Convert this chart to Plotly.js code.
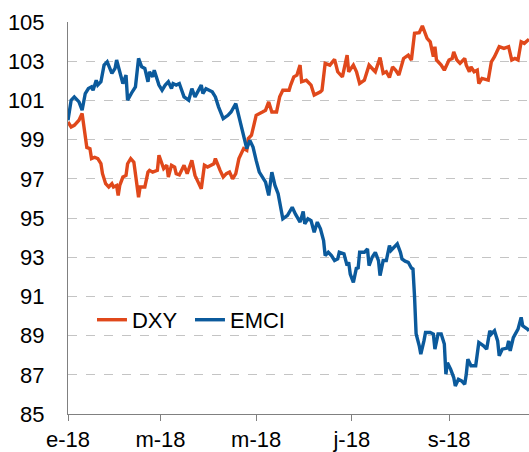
<!DOCTYPE html>
<html>
<head>
<meta charset="utf-8">
<script src="https://cdn.plot.ly/plotly-3.0.1.min.js"></script>
<style>html,body{margin:0;padding:0;background:#fff;}#chart{width:529px;height:452px;}</style>
</head>
<body>
<div id="chart"></div>
<script>
var dxyDates = ['2018-01-01','2018-01-03','2018-01-05','2018-01-08','2018-01-10','2018-01-12','2018-01-13','2018-01-15','2018-01-16','2018-01-18','2018-01-20','2018-01-22','2018-01-23','2018-01-25','2018-01-27','2018-01-29','2018-01-30','2018-02-01','2018-02-02','2018-02-03','2018-02-05','2018-02-07','2018-02-08','2018-02-10','2018-02-12','2018-02-13','2018-02-15','2018-02-16','2018-02-19','2018-02-21','2018-02-22','2018-02-24','2018-02-27','2018-02-28','2018-03-02','2018-03-03','2018-03-05','2018-03-06','2018-03-08','2018-03-10','2018-03-11','2018-03-13','2018-03-16','2018-03-18','2018-03-21','2018-03-23','2018-03-25','2018-03-27','2018-03-29','2018-03-31','2018-04-04','2018-04-05','2018-04-08','2018-04-10','2018-04-12','2018-04-14','2018-04-16','2018-04-18','2018-04-20','2018-04-23','2018-04-25','2018-04-26','2018-04-28','2018-05-01','2018-05-05','2018-05-07','2018-05-09','2018-05-11','2018-05-14','2018-05-16','2018-05-18','2018-05-22','2018-05-23','2018-05-25','2018-05-27','2018-05-29','2018-05-30','2018-06-02','2018-06-05','2018-06-07','2018-06-11','2018-06-12','2018-06-14','2018-06-17','2018-06-20','2018-06-22','2018-06-25','2018-06-28','2018-06-29','2018-07-02','2018-07-04','2018-07-06','2018-07-09','2018-07-12','2018-07-15','2018-07-16','2018-07-19','2018-07-21','2018-07-23','2018-07-25','2018-07-27','2018-07-29','2018-07-31','2018-08-03','2018-08-06','2018-08-08','2018-08-10','2018-08-13','2018-08-15','2018-08-17','2018-08-18','2018-08-20','2018-08-22','2018-08-23','2018-08-24','2018-08-27','2018-08-29','2018-09-01','2018-09-03','2018-09-04','2018-09-06','2018-09-08','2018-09-11','2018-09-12','2018-09-14','2018-09-15','2018-09-17','2018-09-19','2018-09-20','2018-09-22','2018-09-26','2018-09-28','2018-09-30','2018-10-03','2018-10-06','2018-10-09','2018-10-11','2018-10-13','2018-10-15','2018-10-17','2018-10-19','2018-10-22'];
var dxyValues = [99.9,99.64,99.73,99.99,100.33,99.3,98.6,98.54,98.03,98.1,98.03,97.77,97.26,96.75,96.58,96.75,96.58,96.66,96.15,96.66,97.09,97.17,97.77,98.03,97.85,97.26,96.06,96.58,96.58,97.34,97.43,97.34,97.43,98.2,97.77,97.52,97.69,97.09,97.69,97.6,97.26,97.2,97.69,97.26,97.94,97.17,96.83,96.49,97.69,97.6,97.77,98.03,97.43,97.09,97.26,97.34,97.0,97.26,98.03,98.54,98.45,99.05,99.22,100.24,100.41,100.5,100.92,100.41,100.41,101.18,101.52,101.52,101.78,102.2,102.29,102.8,101.95,102.03,101.78,101.27,101.44,101.52,102.89,102.8,103.09,102.46,102.2,103.31,102.46,102.8,102.46,101.86,102.03,102.8,102.54,102.46,103.19,102.38,102.46,102.17,102.71,102.54,102.29,103.14,103.31,103.06,104.42,104.45,104.8,104.34,104.17,103.99,103.23,103.74,103.06,102.8,102.54,103.06,103.14,103.48,103.06,102.89,103.14,102.8,102.46,102.71,102.46,102.54,101.86,102.12,102.03,102.97,103.23,103.74,103.65,103.74,103.06,103.14,103.06,103.99,103.91,104.12];

var emciDates = ['2018-01-01','2018-01-03','2018-01-05','2018-01-08','2018-01-10','2018-01-12','2018-01-14','2018-01-16','2018-01-17','2018-01-19','2018-01-20','2018-01-22','2018-01-24','2018-01-26','2018-01-29','2018-01-31','2018-02-01','2018-02-03','2018-02-05','2018-02-07','2018-02-08','2018-02-11','2018-02-13','2018-02-15','2018-02-17','2018-02-19','2018-02-21','2018-02-22','2018-02-24','2018-02-25','2018-02-28','2018-03-02','2018-03-04','2018-03-06','2018-03-08','2018-03-09','2018-03-11','2018-03-13','2018-03-16','2018-03-19','2018-03-21','2018-03-23','2018-03-25','2018-03-27','2018-03-28','2018-03-30','2018-04-03','2018-04-05','2018-04-07','2018-04-10','2018-04-13','2018-04-15','2018-04-18','2018-04-19','2018-04-21','2018-04-23','2018-04-25','2018-04-27','2018-04-29','2018-05-01','2018-05-03','2018-05-07','2018-05-09','2018-05-11','2018-05-13','2018-05-15','2018-05-16','2018-05-18','2018-05-21','2018-05-24','2018-05-26','2018-05-29','2018-05-31','2018-06-01','2018-06-03','2018-06-05','2018-06-07','2018-06-09','2018-06-11','2018-06-13','2018-06-14','2018-06-16','2018-06-18','2018-06-20','2018-06-22','2018-06-23','2018-06-26','2018-06-28','2018-06-29','2018-06-30','2018-07-02','2018-07-04','2018-07-05','2018-07-06','2018-07-09','2018-07-11','2018-07-12','2018-07-14','2018-07-16','2018-07-18','2018-07-19','2018-07-21','2018-07-23','2018-07-25','2018-07-26','2018-07-30','2018-08-01','2018-08-02','2018-08-04','2018-08-06','2018-08-08','2018-08-09','2018-08-10','2018-08-11','2018-08-13','2018-08-14','2018-08-16','2018-08-17','2018-08-20','2018-08-22','2018-08-23','2018-08-25','2018-08-27','2018-08-29','2018-08-30','2018-08-31','2018-09-02','2018-09-04','2018-09-05','2018-09-07','2018-09-09','2018-09-11','2018-09-12','2018-09-13','2018-09-15','2018-09-18','2018-09-20','2018-09-23','2018-09-25','2018-09-27','2018-09-28','2018-09-30','2018-10-02','2018-10-03','2018-10-05','2018-10-08','2018-10-09','2018-10-10','2018-10-12','2018-10-14','2018-10-15','2018-10-17','2018-10-18','2018-10-21','2018-10-22'];
var emciValues = [99.99,101.01,101.18,100.92,100.5,101.35,101.6,101.69,101.52,102.03,101.78,101.95,102.8,102.97,102.38,102.63,103.06,102.46,101.86,102.29,101.01,101.44,101.69,103.14,102.71,102.63,101.95,102.46,102.2,102.54,101.78,101.52,101.78,101.95,101.61,101.86,101.78,101.86,101.18,101.01,101.6,101.18,101.52,101.78,101.35,101.6,101.44,101.18,100.67,100.07,100.24,100.41,100.84,100.5,99.73,99.05,98.54,98.96,98.62,97.94,97.34,96.83,96.15,97.34,96.66,96.24,95.73,94.96,95.13,95.55,95.21,94.79,95.33,94.7,94.96,94.87,94.27,94.79,94.45,93.85,93.08,93.25,93.08,92.83,92.91,93.25,93.17,92.57,92.74,92.14,91.72,92.48,92.4,93.25,93.25,93.42,92.57,93.0,93.25,92.83,92.06,92.83,92.83,93.59,93.34,93.68,93.25,92.91,92.8,92.74,92.45,92.4,91.0,89.1,88.48,88.05,88.73,89.16,89.16,89.08,88.31,89.08,89.08,88.57,87.03,87.62,87.29,86.86,86.43,86.77,86.69,86.52,87.03,87.8,87.46,87.46,88.65,88.48,88.31,89.25,89.08,89.25,88.73,87.97,88.31,88.36,88.73,88.22,88.9,89.16,89.33,89.93,89.5,89.33,89.25];

var tickDates = ['2018-01-01','2018-03-01','2018-05-01','2018-07-01','2018-09-01'];
var tickLabels = ['e-18','m-18','m-18','j-18','s-18'];
var seriesNames = ['DXY','EMCI'];

var traces = [
  {x: dxyDates, y: dxyValues, name: seriesNames[0], type: 'scatter', mode: 'lines',
   line: {color: '#E0481B', width: 3.4}},
  {x: emciDates, y: emciValues, name: seriesNames[1], type: 'scatter', mode: 'lines',
   line: {color: '#0B5A9C', width: 3.4}}
];

var layout = {
  width: 529, height: 452,
  margin: {l: 68, r: 0, t: 22, b: 38, pad: 0},
  paper_bgcolor: '#ffffff', plot_bgcolor: '#ffffff',
  font: {family: 'Liberation Sans, Arial, sans-serif', size: 22, color: '#000000'},
  showlegend: true,
  legend: {orientation: 'h', x: 0.052, xanchor: 'left', y: 0.24, yanchor: 'middle',
           entrywidth: 53, entrywidthmode: 'pixels',
           bgcolor: 'rgba(0,0,0,0)', font: {size: 22, color: '#000'}, tracegroupgap: 0},
  xaxis: {type: 'date', range: ['2018-01-01', '2018-10-22'],
          tickmode: 'array', tickvals: tickDates, ticktext: tickLabels,
          showgrid: false, zeroline: false, showline: true, linecolor: '#808080', linewidth: 1,
          ticks: 'outside', ticklen: 6, tickcolor: '#808080', tickwidth: 1,
          tickfont: {size: 22, color: '#000'}, fixedrange: true},
  yaxis: {range: [85, 105], tick0: 85, dtick: 2, tickmode: 'linear',
          showgrid: true, gridcolor: '#c4c4c4', griddash: 'dash', gridwidth: 1,
          zeroline: false, showline: true, linecolor: '#808080', linewidth: 1,
          ticks: '', ticklabelstandoff: 18,
          tickfont: {size: 22, color: '#000'}, fixedrange: true}
};

Plotly.newPlot('chart', traces, layout, {displayModeBar: false, staticPlot: true});
</script>
</body>
</html>
